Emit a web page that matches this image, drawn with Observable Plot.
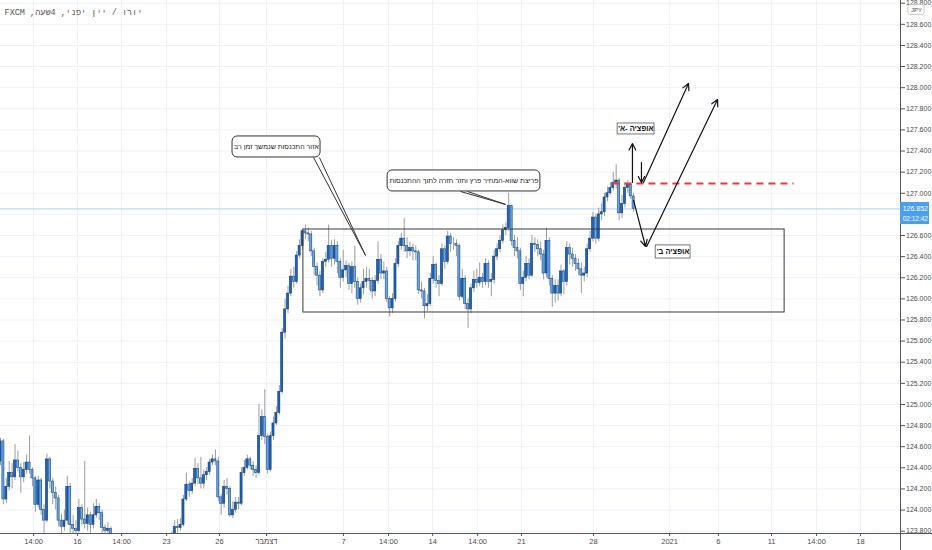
<!DOCTYPE html>
<html><head><meta charset="utf-8">
<script src="https://cdn.jsdelivr.net/npm/d3@7"></script>
<script src="https://cdn.jsdelivr.net/npm/@observablehq/plot@0.6"></script>
<style>html,body{margin:0;padding:0;background:#fff}svg{display:block}</style>
</head><body><div id="chart"></div>
<script>
// ---- data (EUR/JPY, 4h candles; open of each candle = previous close) ----
const title = "יורו / יין יפני, 4שעה, FXCM";
const firstOpen = 124.46;
const closes = [
124.65,124.10,124.22,124.35,124.31,124.47,124.40,124.31,124.38,124.45,
124.38,124.30,124.05,124.28,124.00,123.90,124.48,124.27,124.16,124.11,
123.90,123.84,123.90,124.22,123.86,123.82,123.80,124.02,123.91,123.87,
123.95,123.86,123.95,124.03,123.97,123.83,123.80,123.82,123.74,123.70,
123.66,123.72,123.62,123.58,123.64,123.55,123.60,123.52,123.57,123.50,
123.56,123.62,123.58,123.66,123.60,123.68,123.72,123.65,123.70,123.76,
123.84,123.83,123.86,124.10,124.24,124.18,124.25,124.39,124.30,124.25,
124.33,124.36,124.45,124.48,124.46,124.12,124.06,124.22,124.20,123.95,
124.00,124.07,124.06,124.35,124.40,124.48,124.42,124.38,124.35,124.70,
124.88,124.69,124.38,124.70,124.82,124.92,125.12,125.68,125.90,126.05,
126.21,126.16,126.41,126.50,126.64,126.62,126.61,126.45,126.30,126.22,
126.08,126.35,126.37,126.50,126.38,126.50,126.35,126.20,126.27,126.31,
126.14,126.30,126.16,126.00,126.10,126.16,126.19,126.17,126.07,126.17,
126.37,126.24,126.26,126.00,125.91,126.00,126.33,126.50,126.57,126.50,
126.45,126.48,126.45,126.44,126.08,126.07,125.93,125.95,126.19,126.32,
126.17,126.14,126.47,126.35,126.59,126.52,126.52,126.50,126.02,126.19,
125.95,125.90,126.10,126.18,126.15,126.20,126.16,126.33,126.16,126.18,
126.40,126.47,126.55,126.65,126.67,126.88,126.55,126.48,126.45,126.14,
126.20,126.33,126.22,126.52,126.51,126.47,126.42,126.24,126.55,126.19,
126.05,126.12,126.05,126.26,126.16,126.48,126.42,126.38,126.33,126.28,
126.22,126.24,126.47,126.57,126.77,126.57,126.80,126.82,126.96,127.00,
127.05,127.10,127.12,126.81,126.90,127.05,127.08,126.97,126.852];
const highs = [
124.68,124.67,124.30,124.46,124.44,124.62,124.56,124.44,124.45,124.52,
124.70,124.40,124.32,124.32,124.30,124.05,124.53,124.50,124.30,124.22,
124.14,123.96,124.00,124.32,124.25,123.95,123.90,124.10,124.05,124.46,
124.02,123.98,124.06,124.10,124.06,124.00,123.86,123.88,123.84,123.77,
123.74,123.76,123.74,123.66,123.68,123.66,123.64,123.62,123.60,123.59,
123.60,123.66,123.66,123.70,123.68,123.72,123.76,123.75,123.74,123.79,
123.90,123.91,123.92,124.14,124.35,124.27,124.30,124.49,124.44,124.50,
124.38,124.40,124.48,124.52,124.57,124.50,124.15,124.28,124.30,124.22,
124.08,124.12,124.12,124.40,124.47,124.52,124.50,124.46,124.42,125.00,
124.95,125.14,124.72,124.74,124.88,124.98,125.18,125.72,126.00,126.12,
126.28,126.30,126.45,126.56,126.66,126.70,126.67,126.64,126.48,126.34,
126.26,126.38,126.44,126.70,126.55,126.56,126.54,126.38,126.46,126.36,
126.34,126.35,126.50,126.20,126.14,126.28,126.30,126.28,126.20,126.22,
126.54,126.42,126.35,126.30,126.02,126.05,126.38,126.54,126.62,126.76,
126.58,126.54,126.52,126.50,126.46,126.16,126.10,126.04,126.24,126.40,
126.34,126.22,126.52,126.50,126.64,126.62,126.58,126.56,126.52,126.28,
126.22,126.00,126.14,126.26,126.28,126.34,126.24,126.38,126.36,126.24,
126.46,126.52,126.60,126.70,126.72,127.00,126.88,126.60,126.58,126.48,
126.26,126.40,126.38,126.60,126.58,126.56,126.54,126.46,126.67,126.58,
126.22,126.18,126.18,126.32,126.28,126.54,126.52,126.48,126.42,126.38,
126.34,126.30,126.52,126.64,126.82,126.80,126.86,126.90,127.00,127.06,
127.10,127.20,127.27,127.14,126.98,127.10,127.12,127.10,127.00];
const lows = [
124.42,124.05,124.06,124.18,124.20,124.28,124.36,124.16,124.26,124.34,
124.34,124.22,123.98,124.02,123.95,123.78,123.88,124.20,124.05,124.00,
123.84,123.74,123.80,123.86,123.78,123.72,123.70,123.78,123.85,123.82,
123.80,123.78,123.82,123.92,123.90,123.76,123.70,123.72,123.68,123.64,
123.60,123.62,123.58,123.52,123.55,123.50,123.52,123.47,123.49,123.45,
123.47,123.53,123.54,123.55,123.56,123.58,123.64,123.60,123.62,123.66,
123.74,123.78,123.80,123.84,124.08,124.12,124.15,124.22,124.24,124.20,
124.20,124.28,124.33,124.42,124.42,124.08,123.95,124.02,124.14,123.93,
123.92,123.97,124.00,124.04,124.32,124.38,124.38,124.32,124.30,124.33,
124.66,124.62,124.34,124.36,124.66,124.80,124.90,125.10,125.62,125.86,
126.02,126.10,126.14,126.38,126.46,126.56,126.54,126.40,126.22,126.12,
126.02,126.05,126.30,126.34,126.30,126.32,126.24,126.10,126.16,126.20,
126.08,126.05,126.10,125.94,125.96,126.04,126.10,126.08,126.00,126.02,
126.14,126.18,126.18,125.96,125.83,125.86,125.97,126.30,126.46,126.44,
126.38,126.40,126.36,126.36,126.04,126.00,125.81,125.88,125.93,126.14,
126.10,126.02,126.12,126.28,126.32,126.44,126.46,126.40,125.98,126.00,
125.90,125.72,125.86,126.06,126.10,126.12,126.10,126.12,126.10,126.02,
126.14,126.36,126.44,126.52,126.60,126.64,126.50,126.40,126.38,126.08,
126.02,126.16,126.18,126.20,126.44,126.40,126.36,126.18,126.20,126.12,
125.92,125.96,125.98,126.02,126.04,126.12,126.32,126.30,126.26,126.22,
126.05,126.16,126.20,126.44,126.54,126.52,126.54,126.74,126.78,126.92,
126.98,127.02,127.04,126.74,126.76,126.86,127.00,126.94,126.82];

// time axis (candle index positions) and labels
const tickIndex = [11.4, 26.5, 41.7, 57.2, 75.4, 91.6, 118.1, 133.6, 148.8, 164.3, 179.4, 204.2, 230.4, 247.2, 265.5, 281.0, 296.1];
const tickLabels = ["14:00","16","14:00","23","26","דצמבר","7","14:00","14","14:00","21","28","2021","6","11","14:00","18"];
// price axis
const priceTicks = [123.8,124.0,124.2,124.4,124.6,124.8,125.0,125.2,125.4,125.6,125.8,126.0,126.2,126.4,126.6,126.8,127.0,127.2,127.4,127.6,127.8,128.0,128.2,128.4,128.6,128.8];
const lastPrice = 126.852;
const countdown = "02:12:42";

// drawings (in candle index / price units)
const rangeBox = [{x1: 104.3, x2: 270.0, y1: 125.871, y2: 126.657}];
const resistance = [{x1: 210.7, x2: 273.1, y: 127.093}];
const callouts = [
  {text: "אזור התכנסות שנמשך זמן רב", x1: 79.9, x2: 110.2, y1: 127.339, y2: 127.538, cx: 95.0, cy: 127.438},
  {text: "פריצת שווא-המחיר פרץ וחזר חזרה לתוך ההתכנסות", x1: 133.3, x2: 185.9, y1: 127.017, y2: 127.216, cx: 159.6, cy: 127.116}
];
const leaders = [
  {x1: 107.8, y1: 127.339, x2: 125.7, y2: 126.411},
  {x1: 109.8, y1: 127.339, x2: 125.7, y2: 126.411},
  {x1: 158.4, y1: 127.017, x2: 173.9, y2: 126.894},
  {x1: 160.8, y1: 127.017, x2: 173.9, y2: 126.894}
];
const arrows = [
  {x1: 217.6, y1: 127.102, x2: 217.6, y2: 127.471},
  {x1: 220.7, y1: 127.291, x2: 220.7, y2: 127.102},
  {x1: 221.4, y1: 127.102, x2: 236.9, y2: 128.040},
  {x1: 218.0, y1: 126.932, x2: 222.1, y2: 126.496},
  {x1: 222.5, y1: 126.496, x2: 246.9, y2: 127.888}
];
const optionLabels = [
  {text: "אופציה -א'", x1: 212.5, x2: 225.2, y1: 127.557, y2: 127.661, cx: 218.8, cy: 127.609},
  {text: "אופציה ב'", x1: 225.6, x2: 237.6, y1: 126.382, y2: 126.506, cx: 231.6, cy: 126.444}
];

// ---- layout ----
const xMax = 309.9;               // visible candle slots up to the price scale
const xEdge = 321;                // right edge of the window in candle slots
const yDomain = [123.778, 128.8256];
const yBottomEdge = 123.617;
const rtl = s => "\u202B" + s + "\u202C";   // right-to-left embedding, as in the Hebrew UI

const candles = closes.map((c, i) => ({i, open: i === 0 ? firstOpen : closes[i - 1], close: c, high: highs[i], low: lows[i]}));
const upC = candles.filter(d => d.close >= d.open);
const downC = candles.filter(d => d.close < d.open);
const labelOf = new Map(tickIndex.map((t, k) => [t, tickLabels[k]]));
const fmt = d3.format(".3f");
// price labels hidden under the last-price badge are not drawn (as in the reference)
const labelledTicks = priceTicks.filter(t => Math.abs(t - lastPrice) > 0.1);

const chart = Plot.plot({
  width: 932, height: 550,
  marginLeft: 0, marginRight: 32, marginTop: 0, marginBottom: 17,
  style: {fontFamily: "Liberation Sans, Arial, sans-serif", fontSize: "7.5px", color: "#4a4a4a", background: "#ffffff"},
  x: {domain: [0, xMax]},
  y: {domain: yDomain},
  marks: [
    Plot.gridY(priceTicks, {stroke: "#eef1f6", strokeOpacity: 1}),
    Plot.gridX(tickIndex, {stroke: "#eef1f6", strokeOpacity: 1}),
    Plot.ruleY([lastPrice], {stroke: "#a9d2f6", strokeWidth: 1}),
    // candles
    Plot.ruleX(candles, {x: "i", y1: "low", y2: "high", stroke: "#9c9c9c", strokeWidth: 1, clip: true}),
    Plot.rect(upC, {x1: d => d.i - 0.36, x2: d => d.i + 0.36, y1: "open", y2: "close", fill: "#1763c4", stroke: "#173d70", strokeWidth: 0.6, clip: true}),
    Plot.rect(downC, {x1: d => d.i - 0.36, x2: d => d.i + 0.36, y1: "open", y2: "close", fill: "#62a9ee", stroke: "#1d4a80", strokeWidth: 0.6, clip: true}),
    // drawings
    Plot.rect(rangeBox, {x1: "x1", x2: "x2", y1: "y1", y2: "y2", fill: "none", stroke: "#3a3a3a", strokeWidth: 1}),
    Plot.link(resistance, {x1: "x1", x2: "x2", y1: "y", y2: "y", stroke: "#f0373f", strokeWidth: 2, strokeDasharray: "7,5"}),
    Plot.link(leaders, {x1: "x1", y1: "y1", x2: "x2", y2: "y2", stroke: "#333", strokeWidth: 1}),
    Plot.rect(callouts, {x1: "x1", x2: "x2", y1: "y1", y2: "y2", fill: "#fff", stroke: "#333", strokeWidth: 1, rx: 5}),
    Plot.text(callouts, {x: "cx", y: "cy", text: d => rtl(d.text), fontSize: 7, fill: "#222", fontFamily: "Liberation Sans"}),
    Plot.arrow(arrows, {x1: "x1", y1: "y1", x2: "x2", y2: "y2", stroke: "#111", strokeWidth: 1.2, headLength: 9, headAngle: 55}),
    Plot.rect(optionLabels, {x1: "x1", x2: "x2", y1: "y1", y2: "y2", fill: "#fff", stroke: "#555", strokeWidth: 0.8}),
    Plot.text(optionLabels, {x: "cx", y: "cy", text: d => rtl(d.text), fontSize: 7.5, fontWeight: "bold", fill: "#111", fontFamily: "Liberation Sans"}),
    // axes
    Plot.axisY(labelledTicks, {anchor: "right", tickSize: 4, tickPadding: 1.5, tickFormat: fmt, label: null, stroke: "#555", fill: "#4a4a4a", fontSize: 7}),
    Plot.axisX(tickIndex, {anchor: "bottom", tickSize: 3, tickPadding: 2, tickFormat: d => labelOf.get(d), label: null, stroke: "#555", fill: "#4a4a4a", fontSize: 7.5}),
    Plot.ruleY([yDomain[0]], {x1: 0, x2: xEdge, stroke: "#555", strokeWidth: 1}),
    Plot.ruleX([xMax], {y1: yDomain[1], y2: yBottomEdge, stroke: "#555", strokeWidth: 1}),
    // price label
    Plot.rect([lastPrice], {x1: xMax, x2: 319.9, y1: 126.704, y2: 126.913, fill: "#4a9ff0"}),
    Plot.text([lastPrice], {x: 315.0, y: 126.856, text: d => fmt(d), fill: "#fff", fontSize: 7}),
    Plot.text([countdown], {x: 315.0, y: 126.757, text: d => d, fill: "#fff", fontSize: 6.5}),
    // currency badge
    Plot.rect(["JPY"], {x1: 312.6, x2: 318.2, y1: 128.690, y2: 128.782, fill: "#fff", stroke: "#bbb", strokeWidth: 0.8, rx: 2}),
    Plot.text(["JPY"], {x: 315.4, y: 128.735, text: d => d, fontSize: 6, fill: "#444"}),
    // title
    Plot.text([title], {x: 1.4, y: 128.712, text: d => rtl(d), textAnchor: "start", fontSize: 8.5, fill: "#555", fontFamily: "Liberation Mono"})
  ]
});
document.getElementById("chart").append(chart);
</script>
</body></html>
